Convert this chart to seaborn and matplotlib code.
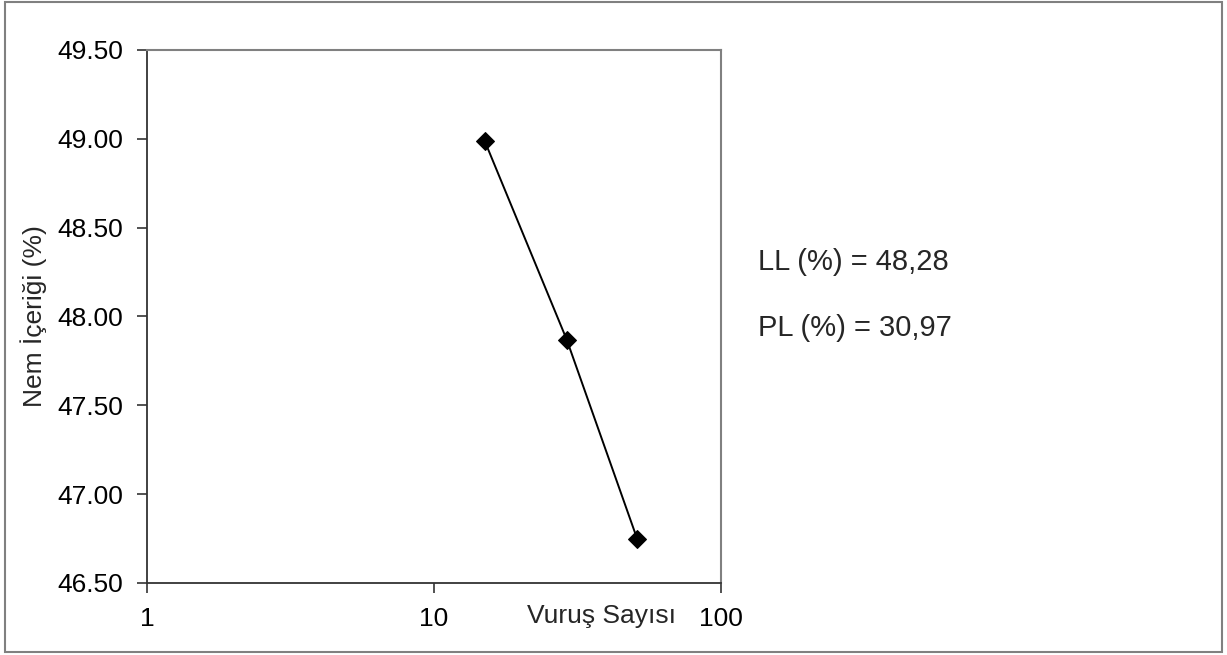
import matplotlib
matplotlib.use('Agg')
import matplotlib.pyplot as plt
import matplotlib.patches as patches
import seaborn as sns
import pandas as pd

# Veriler
vurus_sayisi = [15, 29, 51]
nem_icerigi = [48.99, 47.87, 46.75]
x_ticks = [1, 10, 100]
y_ticks = [46.50, 47.00, 47.50, 48.00, 48.50, 49.00, 49.50]
ll_text = 'LL (%) = 48,28'
pl_text = 'PL (%) = 30,97'

df = pd.DataFrame({'Vuruş Sayısı': vurus_sayisi, 'Nem İçeriği (%)': nem_icerigi})

sns.set_style('white')
plt.rcParams['font.family'] = ['Liberation Sans', 'DejaVu Sans']

fig = plt.figure(figsize=(12.27, 6.55), dpi=100)
ax = fig.add_axes([0.1198, 0.110, 0.4678, 0.8137])

sns.lineplot(data=df, x='Vuruş Sayısı', y='Nem İçeriği (%)', ax=ax, color='black',
             marker='D', markersize=9, markeredgecolor='black', linewidth=1.4)

ax.set_xscale('log')
ax.set_xlim(1, 100)
ax.set_ylim(46.5, 49.5)
ax.set_xticks(x_ticks)
ax.set_xticklabels([str(t) for t in x_ticks])
ax.minorticks_off()
ax.set_yticks(y_ticks)
ax.set_yticklabels([f'{t:.2f}' for t in y_ticks])

ax.tick_params(axis='both', which='major', bottom=True, left=True, direction='out',
               length=7, width=1.2, colors='#333333', labelcolor='black',
               labelsize=19, pad=10)

for s in ['left', 'bottom']:
    ax.spines[s].set_color('#333333')
    ax.spines[s].set_linewidth(1.3)
for s in ['top', 'right']:
    ax.spines[s].set_color('#808080')
    ax.spines[s].set_linewidth(1.5)

ax.set_xlabel('Vuruş Sayısı', fontsize=19)
ax.xaxis.set_label_coords(0.791, -0.04)
ax.set_ylabel('Nem İçeriği (%)', fontsize=19)
ax.yaxis.set_label_coords(-0.175, 0.5)

fig.text(0.618, 1 - 262 / 655, ll_text, fontsize=21, ha='left', va='center')
fig.text(0.618, 1 - 328 / 655, pl_text, fontsize=21, ha='left', va='center')

# Dış çerçeve
fig.patches.append(patches.Rectangle((0.0037, 0.004), 0.9925, 0.993, transform=fig.transFigure,
                                     fill=False, edgecolor='#808080', linewidth=1.5))

fig.savefig('out.png', dpi=100)
